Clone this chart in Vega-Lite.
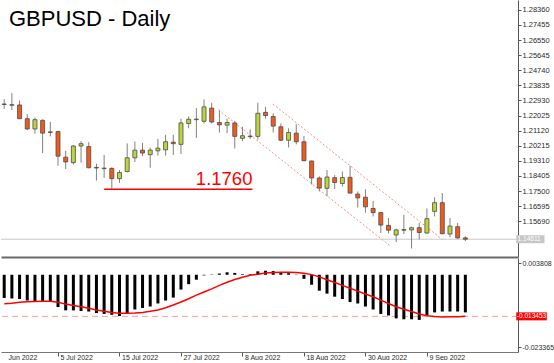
{
  "$schema": "https://vega.github.io/schema/vega-lite/v6.json",
  "padding": 0,
  "background": "white",
  "bounds": "flush",
  "spacing": 1,
  "config": {"view": {"stroke": null}, "font": "Liberation Sans"},
  "datasets": {
    "candles": [
      {"date":"2022-06-24","i":0,"open":1.22715,"high":1.23003,"low":1.22427,"close":1.22686,"macd":-0.0075,"signal":-0.00934},
      {"date":"2022-06-27","i":1,"open":1.22640,"high":1.23366,"low":1.22352,"close":1.22675,"macd":-0.00767,"signal":-0.0092},
      {"date":"2022-06-28","i":2,"open":1.22658,"high":1.22928,"low":1.21822,"close":1.21834,"macd":-0.00784,"signal":-0.00891},
      {"date":"2022-06-29","i":3,"open":1.21834,"high":1.22122,"low":1.21160,"close":1.21218,"macd":-0.00833,"signal":-0.00876},
      {"date":"2022-06-30","i":4,"open":1.21218,"high":1.21892,"low":1.20930,"close":1.21776,"macd":-0.00853,"signal":-0.00862},
      {"date":"2022-07-01","i":5,"open":1.21736,"high":1.21794,"low":1.19778,"close":1.20970,"macd":-0.00862,"signal":-0.00856},
      {"date":"2022-07-04","i":6,"open":1.21045,"high":1.21638,"low":1.20774,"close":1.21010,"macd":-0.00882,"signal":-0.00856},
      {"date":"2022-07-05","i":7,"open":1.21062,"high":1.21120,"low":1.19012,"close":1.19588,"macd":-0.01044,"signal":-0.00891},
      {"date":"2022-07-06","i":8,"open":1.19530,"high":1.19910,"low":1.18816,"close":1.19242,"macd":-0.01151,"signal":-0.00949},
      {"date":"2022-07-07","i":9,"open":1.19202,"high":1.20256,"low":1.19086,"close":1.20198,"macd":-0.01151,"signal":-0.00992},
      {"date":"2022-07-08","i":10,"open":1.20198,"high":1.20486,"low":1.19202,"close":1.20336,"macd":-0.01171,"signal":-0.01035},
      {"date":"2022-07-11","i":11,"open":1.20164,"high":1.20429,"low":1.18856,"close":1.18896,"macd":-0.01189,"signal":-0.01084},
      {"date":"2022-07-12","i":12,"open":1.18914,"high":1.19144,"low":1.18125,"close":1.18879,"macd":-0.01238,"signal":-0.01137},
      {"date":"2022-07-13","i":13,"open":1.18839,"high":1.19662,"low":1.18280,"close":1.18873,"macd":-0.01267,"signal":-0.0118},
      {"date":"2022-07-14","i":14,"open":1.18856,"high":1.18914,"low":1.17646,"close":1.18240,"macd":-0.01295,"signal":-0.01223},
      {"date":"2022-07-15","i":15,"open":1.18240,"high":1.18758,"low":1.17992,"close":1.18608,"macd":-0.01333,"signal":-0.01246},
      {"date":"2022-07-18","i":16,"open":1.18666,"high":1.20354,"low":1.18626,"close":1.19490,"macd":-0.01246,"signal":-0.01246},
      {"date":"2022-07-19","i":17,"open":1.19490,"high":1.20469,"low":1.19242,"close":1.19950,"macd":-0.01122,"signal":-0.01238},
      {"date":"2022-07-20","i":18,"open":1.19950,"high":1.20394,"low":1.19588,"close":1.19778,"macd":-0.01073,"signal":-0.01217},
      {"date":"2022-07-21","i":19,"open":1.19680,"high":1.20106,"low":1.18896,"close":1.19950,"macd":-0.01027,"signal":-0.0118},
      {"date":"2022-07-22","i":20,"open":1.19910,"high":1.20624,"low":1.19622,"close":1.20066,"macd":-0.00928,"signal":-0.01137},
      {"date":"2022-07-25","i":21,"open":1.19968,"high":1.20872,"low":1.19622,"close":1.20452,"macd":-0.00833,"signal":-0.01064},
      {"date":"2022-07-26","i":22,"open":1.20429,"high":1.20872,"low":1.19662,"close":1.20336,"macd":-0.00738,"signal":-0.00978},
      {"date":"2022-07-27","i":23,"open":1.20296,"high":1.21834,"low":1.19720,"close":1.21580,"macd":-0.00478,"signal":-0.00882},
      {"date":"2022-07-28","i":24,"open":1.21546,"high":1.21966,"low":1.21258,"close":1.21794,"macd":-0.00304,"signal":-0.00775},
      {"date":"2022-07-29","i":25,"open":1.21776,"high":1.22468,"low":1.20682,"close":1.21811,"macd":-0.0016,"signal":-0.0066},
      {"date":"2022-08-01","i":26,"open":1.21678,"high":1.22986,"low":1.21546,"close":1.22542,"macd":-0.0002,"signal":-0.00559},
      {"date":"2022-08-02","i":27,"open":1.22468,"high":1.22790,"low":1.21546,"close":1.21638,"macd":0.0001,"signal":-0.00457},
      {"date":"2022-08-03","i":28,"open":1.21604,"high":1.22352,"low":1.21005,"close":1.21465,"macd":0.0004,"signal":-0.00342},
      {"date":"2022-08-04","i":29,"open":1.21448,"high":1.21834,"low":1.20970,"close":1.21604,"macd":0.0008,"signal":-0.00241},
      {"date":"2022-08-05","i":30,"open":1.21580,"high":1.21696,"low":1.20048,"close":1.20774,"macd":0.0006,"signal":-0.00154},
      {"date":"2022-08-08","i":31,"open":1.20659,"high":1.21350,"low":1.20486,"close":1.20814,"macd":0.0002,"signal":-0.00082},
      {"date":"2022-08-09","i":32,"open":1.20791,"high":1.21200,"low":1.20624,"close":1.20757,"macd":0.0002,"signal":-0.00018},
      {"date":"2022-08-10","i":33,"open":1.20774,"high":1.22790,"low":1.20584,"close":1.22157,"macd":0.0011,"signal":0.0002},
      {"date":"2022-08-11","i":34,"open":1.22214,"high":1.22542,"low":1.21834,"close":1.22024,"macd":0.0013,"signal":0.00054},
      {"date":"2022-08-12","i":35,"open":1.21966,"high":1.22157,"low":1.21005,"close":1.21390,"macd":0.0012,"signal":0.00072},
      {"date":"2022-08-15","i":36,"open":1.21350,"high":1.21546,"low":1.20498,"close":1.20544,"macd":0.0008,"signal":0.00083},
      {"date":"2022-08-16","i":37,"open":1.20544,"high":1.21258,"low":1.20106,"close":1.21005,"macd":0.0005,"signal":0.00083},
      {"date":"2022-08-17","i":38,"open":1.20970,"high":1.21506,"low":1.20296,"close":1.20452,"macd":-0.0001,"signal":0.00077},
      {"date":"2022-08-18","i":39,"open":1.20452,"high":1.20797,"low":1.19277,"close":1.19317,"macd":-0.00131,"signal":0.00048},
      {"date":"2022-08-19","i":40,"open":1.19300,"high":1.19317,"low":1.17894,"close":1.18280,"macd":-0.00322,"signal":0.00005},
      {"date":"2022-08-22","i":41,"open":1.18280,"high":1.18378,"low":1.17474,"close":1.17675,"macd":-0.00515,"signal":-0.00067},
      {"date":"2022-08-23","i":42,"open":1.17664,"high":1.18758,"low":1.17186,"close":1.18338,"macd":-0.0061,"signal":-0.0016},
      {"date":"2022-08-24","i":43,"open":1.18297,"high":1.18453,"low":1.17618,"close":1.18009,"macd":-0.00709,"signal":-0.00249},
      {"date":"2022-08-25","i":44,"open":1.17952,"high":1.18666,"low":1.17762,"close":1.18309,"macd":-0.00784,"signal":-0.00342},
      {"date":"2022-08-26","i":45,"open":1.18320,"high":1.19012,"low":1.17358,"close":1.17376,"macd":-0.00882,"signal":-0.00437},
      {"date":"2022-08-29","i":46,"open":1.17318,"high":1.17474,"low":1.16512,"close":1.17088,"macd":-0.00928,"signal":-0.0053},
      {"date":"2022-08-30","i":47,"open":1.17128,"high":1.17606,"low":1.16206,"close":1.16552,"macd":-0.01027,"signal":-0.00622},
      {"date":"2022-08-31","i":48,"open":1.16454,"high":1.16898,"low":1.15976,"close":1.16206,"macd":-0.01122,"signal":-0.00712},
      {"date":"2022-09-01","i":49,"open":1.16206,"high":1.16235,"low":1.14980,"close":1.15458,"macd":-0.01267,"signal":-0.00819},
      {"date":"2022-09-02","i":50,"open":1.15440,"high":1.15878,"low":1.14957,"close":1.15152,"macd":-0.01316,"signal":-0.00928},
      {"date":"2022-09-05","i":51,"open":1.14864,"high":1.15245,"low":1.14438,"close":1.15170,"macd":-0.01411,"signal":-0.01035},
      {"date":"2022-09-06","i":52,"open":1.15187,"high":1.16074,"low":1.14922,"close":1.15152,"macd":-0.0144,"signal":-0.01113},
      {"date":"2022-09-07","i":53,"open":1.15170,"high":1.15360,"low":1.14058,"close":1.15302,"macd":-0.0144,"signal":-0.01189},
      {"date":"2022-09-08","i":54,"open":1.15302,"high":1.15590,"low":1.14594,"close":1.15014,"macd":-0.0146,"signal":-0.01267},
      {"date":"2022-09-09","i":55,"open":1.14980,"high":1.16454,"low":1.14957,"close":1.15844,"macd":-0.01316,"signal":-0.01324},
      {"date":"2022-09-12","i":56,"open":1.16281,"high":1.17128,"low":1.15976,"close":1.16800,"macd":-0.01217,"signal":-0.01353},
      {"date":"2022-09-13","i":57,"open":1.16800,"high":1.17376,"low":1.14922,"close":1.14939,"macd":-0.01189,"signal":-0.01362},
      {"date":"2022-09-14","i":58,"open":1.14922,"high":1.15878,"low":1.14726,"close":1.15400,"macd":-0.01189,"signal":-0.01359},
      {"date":"2022-09-15","i":59,"open":1.15360,"high":1.15590,"low":1.14634,"close":1.14692,"macd":-0.01189,"signal":-0.01355},
      {"date":"2022-09-16","i":60,"open":1.14692,"high":1.14784,"low":1.14496,"close":1.14611,"macd":-0.01217,"signal":-0.013453}
    ],
    "lastprice": [{"price": 1.14611, "label": "1.14611"}],
    "level": [{"i_start": 13.0, "i_end": 32.3, "price": 1.176, "label": "1.1760"}],
    "channel": [
      {"i_start": 27.9, "p_start": 1.22352, "i_end": 50.11, "p_end": 1.14248},
      {"i_start": 34.96, "p_start": 1.22715, "i_end": 57.04, "p_end": 1.14576}
    ],
    "signallast": [{"value": -0.013453, "label": "-0.013453"}]
  },
  "vconcat": [
    {
      "width": 517,
      "height": 257,
      "title": {"text": "GBPUSD - Daily", "anchor": "start", "frame": "group", "orient": "top", "offset": -48, "dx": 8, "fontSize": 22, "font": "Liberation Sans", "fontWeight": "normal", "color": "#000000", "baseline": "alphabetic"},
      "layer": [
        {
          "data": {"name": "lastprice"},
          "mark": {"type": "rule", "color": "#c8c8c8", "strokeWidth": 1},
          "encoding": {
            "y": {"field": "price", "type": "quantitative", "title": null,
              "scale": {"domain": [1.13845, 1.28648], "nice": false, "zero": false},
              "axis": {"orient": "right", "values": [1.2836, 1.27455, 1.2655, 1.25645, 1.2474, 1.23835, 1.2293, 1.22025, 1.2112, 1.20215, 1.1931, 1.18405, 1.175, 1.16595, 1.1569, 1.14785], "tickCount": 40, "labelExpr": "datum.value < 1.15 ? '' : format(datum.value, '.5f')", "labelFontSize": 7.5, "labelFont": "Liberation Sans", "labelColor": "#2a2a2a", "labelPadding": 1, "tickSize": 3, "tickColor": "#555555", "domainColor": "#555555", "grid": false, "title": null, "labelOverlap": false, "zindex": 0}
            }
          }
        },
        {
          "data": {"name": "channel"},
          "mark": {"type": "rule", "color": "#ff8c8c", "strokeWidth": 1, "strokeDash": [2, 2]},
          "encoding": {
            "x": {"field": "i_start", "type": "quantitative", "title": null, "scale": {"domain": [0.234, 66.2], "nice": false, "zero": false},
              "axis": {"labels": false, "ticks": false, "domain": true, "domainColor": "#6a6a6a", "domainWidth": 2, "grid": false, "title": null}},
            "x2": {"field": "i_end"},
            "y": {"field": "p_start", "type": "quantitative", "title": null, "scale": {"domain": [1.13845, 1.28648], "nice": false, "zero": false}},
            "y2": {"field": "p_end"}
          }
        },
        {
          "data": {"name": "candles"},
          "mark": {"type": "rule", "color": "#808080", "strokeWidth": 1, "clip": true},
          "encoding": {
            "x": {"field": "i", "type": "quantitative", "title": null, "scale": {"domain": [0.234, 66.2], "nice": false, "zero": false}},
            "y": {"field": "low", "type": "quantitative", "title": null, "scale": {"domain": [1.13845, 1.28648], "nice": false, "zero": false}},
            "y2": {"field": "high"}
          }
        },
        {
          "data": {"name": "candles"},
          "mark": {"type": "bar", "width": 4, "stroke": "#4a4a4a", "strokeWidth": 0.8, "clip": true},
          "encoding": {
            "x": {"field": "i", "type": "quantitative", "title": null, "scale": {"domain": [0.234, 66.2], "nice": false, "zero": false}},
            "y": {"field": "open", "type": "quantitative", "title": null, "scale": {"domain": [1.13845, 1.28648], "nice": false, "zero": false}},
            "y2": {"field": "close"},
            "fill": {"condition": {"test": "datum.close > datum.open", "value": "#bcd63a"}, "value": "#f25a1a"}
          }
        },
        {
          "data": {"name": "level"},
          "mark": {"type": "rule", "color": "#ff0000", "strokeWidth": 1.5},
          "encoding": {
            "x": {"field": "i_start", "type": "quantitative", "title": null, "scale": {"domain": [0.234, 66.2], "nice": false, "zero": false}},
            "x2": {"field": "i_end"},
            "y": {"field": "price", "type": "quantitative", "title": null, "scale": {"domain": [1.13845, 1.28648], "nice": false, "zero": false}}
          }
        },
        {
          "data": {"name": "level"},
          "mark": {"type": "text", "color": "#ff0000", "fontSize": 18.5, "font": "Liberation Sans", "align": "right", "baseline": "alphabetic", "dy": -4},
          "encoding": {
            "x": {"field": "i_end", "type": "quantitative", "title": null, "scale": {"domain": [0.234, 66.2], "nice": false, "zero": false}},
            "y": {"field": "price", "type": "quantitative", "title": null, "scale": {"domain": [1.13845, 1.28648], "nice": false, "zero": false}},
            "text": {"field": "label"}
          }
        },
        {
          "data": {"name": "lastprice"},
          "mark": {"type": "bar", "orient": "horizontal", "height": 8, "color": "#c6c6c6"},
          "encoding": {
            "x": {"datum": 66.62, "type": "quantitative", "scale": {"domain": [0.234, 66.2], "nice": false, "zero": false}},
            "x2": {"datum": 70.3},
            "y": {"field": "price", "type": "quantitative", "title": null, "scale": {"domain": [1.13845, 1.28648], "nice": false, "zero": false}}
          }
        },
        {
          "data": {"name": "lastprice"},
          "mark": {"type": "text", "color": "#ffffff", "fontSize": 6.5, "font": "Liberation Sans", "align": "left", "baseline": "middle"},
          "encoding": {
            "x": {"datum": 66.8, "type": "quantitative", "scale": {"domain": [0.234, 66.2], "nice": false, "zero": false}},
            "y": {"field": "price", "type": "quantitative", "title": null, "scale": {"domain": [1.13845, 1.28648], "nice": false, "zero": false}},
            "text": {"field": "label"}
          }
        }
      ]
    },
    {
      "width": 517,
      "height": 94,
      "layer": [
        {
          "data": {"name": "signallast"},
          "mark": {"type": "rule", "color": "#ff9c9c", "strokeWidth": 1, "strokeDash": [6, 4]},
          "encoding": {
            "y": {"field": "value", "type": "quantitative", "title": null,
              "scale": {"domain": [-0.023365, 0.003808], "nice": false, "zero": false},
              "axis": {"orient": "right", "values": [0.003808, -0.023365], "tickCount": 10, "labelExpr": "replace(format(datum.value, '.6f'), '−', '-')", "labelFlush": true, "labelFontSize": 7, "labelFont": "Liberation Sans", "labelColor": "#2a2a2a", "labelPadding": 1, "tickSize": 3, "tickColor": "#555555", "domainColor": "#555555", "grid": false, "title": null, "labelOverlap": false, "zindex": 0}
            }
          }
        },
        {
          "data": {"name": "candles"},
          "mark": {"type": "bar", "width": 3, "color": "#000000", "clip": true},
          "encoding": {
            "x": {"field": "i", "type": "quantitative", "title": null, "scale": {"domain": [0.234, 66.2], "nice": false, "zero": false},
              "axis": {"values": [0.234, 7, 15, 23, 31, 39, 47, 55], "tickCount": 20, "labelExpr": "datum.value < 1 ? 'Jun 2022' : ['5 Jul 2022','15 Jul 2022','27 Jul 2022','8 Aug 2022','18 Aug 2022','30 Aug 2022','9 Sep 2022'][round((datum.value - 7) / 8)]", "labelAlign": "left", "labelBaseline": "top", "labelOffset": 2, "labelPadding": -3, "tickSize": 4, "tickColor": "#555555", "domainColor": "#777777", "labelFontSize": 7, "labelFont": "Liberation Sans", "labelColor": "#2a2a2a", "labelFlush": false, "labelOverlap": false, "grid": false, "title": null, "tickOpacity": {"condition": {"test": "datum.value < 1", "value": 0}, "value": 1}}},
            "y": {"field": "macd", "type": "quantitative", "title": null, "scale": {"domain": [-0.023365, 0.003808], "nice": false, "zero": false}},
            "y2": {"datum": 0}
          }
        },
        {
          "data": {"name": "candles"},
          "mark": {"type": "line", "color": "#ff0000", "strokeWidth": 1.5, "clip": true},
          "encoding": {
            "x": {"field": "i", "type": "quantitative", "title": null, "scale": {"domain": [0.234, 66.2], "nice": false, "zero": false}},
            "y": {"field": "signal", "type": "quantitative", "title": null, "scale": {"domain": [-0.023365, 0.003808], "nice": false, "zero": false}}
          }
        },
        {
          "data": {"name": "signallast"},
          "mark": {"type": "bar", "orient": "horizontal", "height": 8, "color": "#ff0000"},
          "encoding": {
            "x": {"datum": 66.62, "type": "quantitative", "scale": {"domain": [0.234, 66.2], "nice": false, "zero": false}},
            "x2": {"datum": 70.6},
            "y": {"field": "value", "type": "quantitative", "title": null, "scale": {"domain": [-0.023365, 0.003808], "nice": false, "zero": false}}
          }
        },
        {
          "data": {"name": "signallast"},
          "mark": {"type": "text", "color": "#ffffff", "fontSize": 6.5, "font": "Liberation Sans", "align": "left", "baseline": "middle"},
          "encoding": {
            "x": {"datum": 66.7, "type": "quantitative", "scale": {"domain": [0.234, 66.2], "nice": false, "zero": false}},
            "y": {"field": "value", "type": "quantitative", "title": null, "scale": {"domain": [-0.023365, 0.003808], "nice": false, "zero": false}},
            "text": {"field": "label"}
          }
        }
      ]
    }
  ]
}
